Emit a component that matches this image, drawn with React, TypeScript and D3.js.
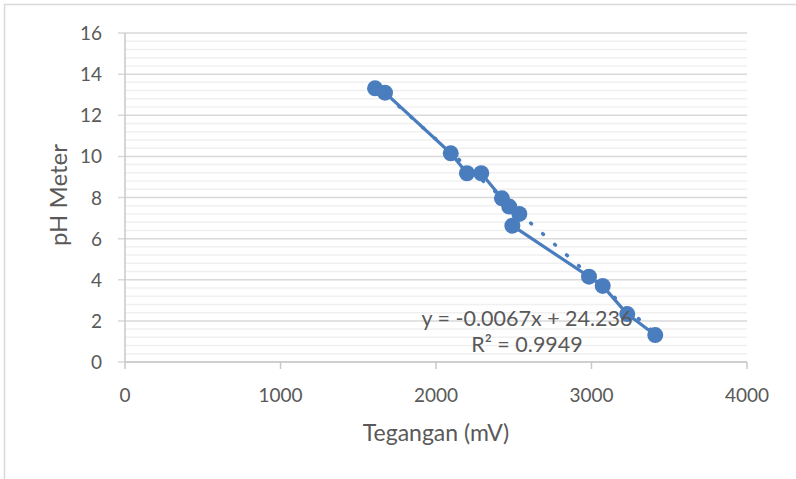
import * as d3 from "d3";

// Tegangan (mV) vs pH Meter
const tegangan = [1608, 1672, 2095, 2199, 2291, 2424, 2471, 2536, 2491, 2984, 3072, 3230, 3410];
const phMeter = [13.31, 13.1, 10.15, 9.18, 9.18, 7.96, 7.56, 7.2, 6.63, 4.15, 3.7, 2.33, 1.31];

const xTicks = [0, 1000, 2000, 3000, 4000];
const yTicks = [0, 2, 4, 6, 8, 10, 12, 14, 16];

// trendline shown on the chart
const slope = -0.0067;
const intercept = 24.236;
const eqLabel = "y = -0.0067x + 24.236";
const r2Label = "R² = 0.9949";

const W = 796;
const H = 479;
const blue = "#4a7dbe";
const textColor = "#595959";
const font = "Lato, 'Open Sans', sans-serif";

export default function App() {
  const x = d3.scaleLinear().domain([0, 4000]).range([125, 747]);
  const y = d3.scaleLinear().domain([0, 16]).range([362, 33]);

  const pts = tegangan.map((t, i) => ({ t, p: phMeter[i] }));

  const line = d3
    .line<{ t: number; p: number }>()
    .x((d) => x(d.t))
    .y((d) => y(d.p));

  const xMin = d3.min(tegangan) ?? 0;
  const xMax = d3.max(tegangan) ?? 0;
  const trend = [xMin, xMax].map((t) => ({ t, p: slope * t + intercept }));

  // minor gridlines every 0.4
  const minor = d3.range(0, 16.001, 0.4).filter((v) => Math.abs(v / 2 - Math.round(v / 2)) > 0.01);

  return (
    <div style={{ position: "absolute", left: 0, top: 0 }}>
      <svg width={W} height={H} style={{ display: "block", fontFamily: font }}>
        <rect x={0} y={0} width={W} height={H} fill="#fff" />
        <rect x={4.5} y={4.5} width={W + 10} height={H + 10} fill="none" stroke="#d9d9d9" strokeWidth={1.5} />

        {/* gridlines */}
        {minor.map((v, i) => (
          <line key={"m" + i} x1={x(0)} x2={x(4000)} y1={y(v)} y2={y(v)} stroke="#f0f0f0" strokeWidth={1.5} />
        ))}
        {yTicks.map((v) => (
          <line key={"g" + v} x1={x(0) - 7} x2={x(4000)} y1={y(v)} y2={y(v)} stroke="#d9d9d9" strokeWidth={1.5} />
        ))}

        {/* axes */}
        <line x1={x(0)} x2={x(0)} y1={y(16)} y2={y(0)} stroke="#c8c8c8" strokeWidth={1.5} />
        <line x1={x(0)} x2={x(4000)} y1={y(0)} y2={y(0)} stroke="#c8c8c8" strokeWidth={1.5} />
        {xTicks.map((v) => (
          <line key={"xt" + v} x1={x(v)} x2={x(v)} y1={y(0)} y2={y(0) + 7} stroke="#c8c8c8" strokeWidth={1.5} />
        ))}

        {/* tick labels */}
        {yTicks.map((v) => (
          <text key={"yl" + v} x={102} y={y(v) + 7} textAnchor="end" fontSize={19} fill={textColor}>
            {v}
          </text>
        ))}
        {xTicks.map((v) => (
          <text key={"xl" + v} x={x(v)} y={402} textAnchor="middle" fontSize={19} fill={textColor}>
            {v}
          </text>
        ))}

        {/* axis titles */}
        <text x={436} y={441} textAnchor="middle" fontSize={23} fill={textColor}>
          Tegangan (mV)
        </text>
        <text transform="translate(67,195) rotate(-90)" textAnchor="middle" fontSize={24} fill={textColor}>
          pH Meter
        </text>

        {/* series */}
        <path d={line(pts) ?? ""} fill="none" stroke={blue} strokeWidth={3.2} strokeLinejoin="round" />
        {pts.map((d, i) => (
          <circle key={"c" + i} cx={x(d.t)} cy={y(d.p)} r={8} fill={blue} />
        ))}

        {/* trendline */}
        <path
          d={line(trend) ?? ""}
          fill="none"
          stroke={blue}
          strokeWidth={3.5}
          strokeDasharray="1 15"
          strokeLinecap="round"
        />

        {/* equation */}
        <text x={527} y={326} textAnchor="middle" fontSize={21.5} fill={textColor}>
          {eqLabel}
        </text>
        <text x={527} y={352} textAnchor="middle" fontSize={21.5} fill={textColor}>
          {r2Label}
        </text>
      </svg>
    </div>
  );
}
